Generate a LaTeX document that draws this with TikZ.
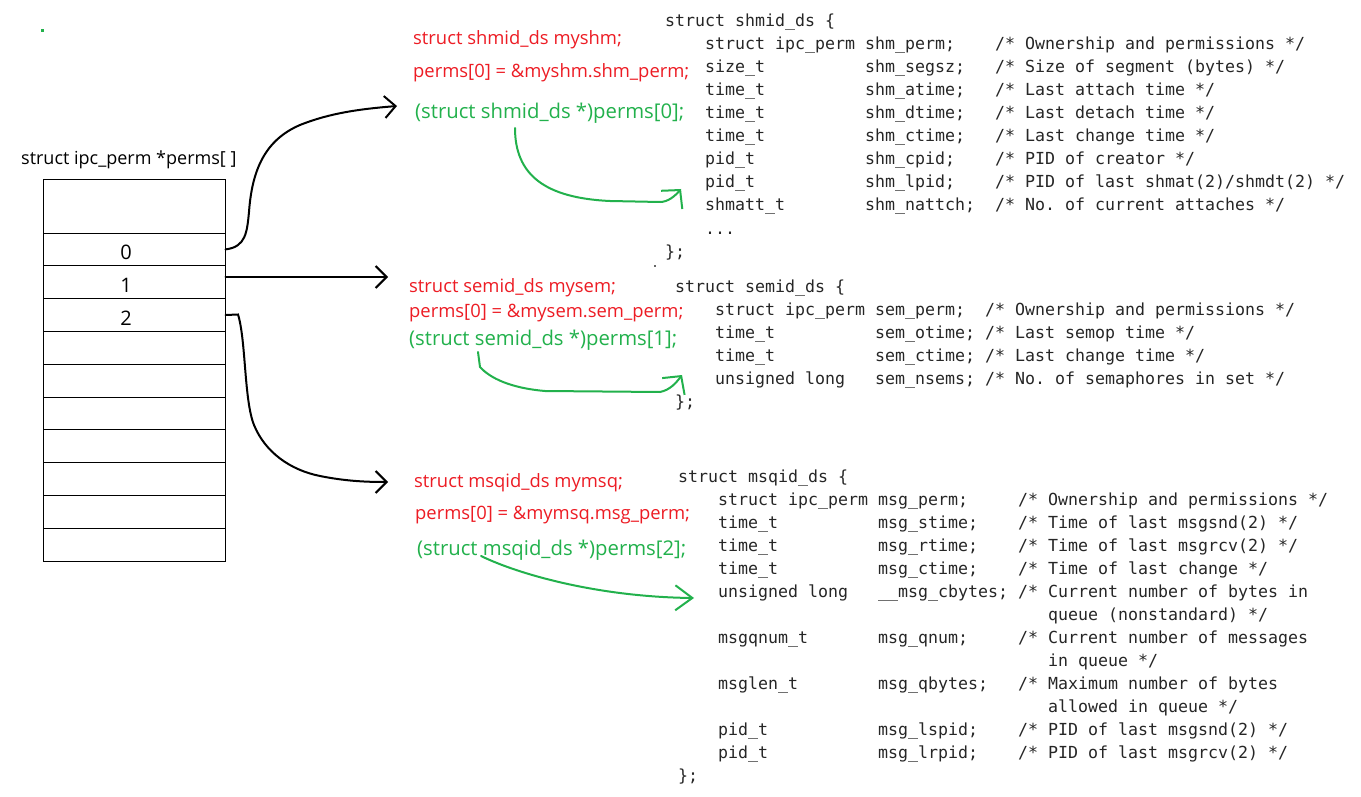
\documentclass[tikz,border=0pt]{standalone}
\usepackage{fontspec}
\setmainfont{Open Sans}
\newfontfamily\codefont{DejaVu Sans Mono}
\usetikzlibrary{arrows.meta}
\definecolor{myred}{RGB}{237,28,36}
\definecolor{mygreen}{RGB}{34,177,76}
\begin{document}
\begin{tikzpicture}[x=1pt,y=-1pt,
  code/.style={anchor=base west,inner sep=0pt,font=\codefont\fontsize{16.61}{20}\selectfont,text=black!85},
  rtxt/.style={anchor=base west,inner sep=0pt,font=\fontsize{18.4}{22}\selectfont,text=myred},
  gtxt/.style={anchor=base west,inner sep=0pt,font=\fontsize{20.3}{24}\selectfont,text=mygreen},
  cell/.style={draw=black,line width=1pt,minimum width=182pt,inner sep=0pt,text height=20pt,text depth=0pt,font=\fontsize{20}{24}\selectfont},
  blk/.style={line width=2pt,line cap=round,-{Straight Barb[length=11pt,width=22pt]}},
  grn/.style={draw=mygreen,line width=2pt,line cap=round,-{Straight Barb[length=13pt,width=28pt]}},
  grnb/.style={draw=mygreen,line width=2pt,line cap=round,-{Straight Barb[length=17pt,width=25pt]}}
]
\fill[white] (0,0) rectangle (1361,797);
\useasboundingbox (0,0) rectangle (1361,797);

% stray dots
\fill[mygreen] (41,29) rectangle (44,32);
\fill[black!60] (654,265) rectangle (656,267);

% array
\node[anchor=base west,inner sep=0pt,font=\fontsize{18}{22}\selectfont] (title) at (21,165) {struct ipc\_perm *perms[~]};
\node[cell,minimum height=53pt] (top) at (134,206.5) {};
\foreach \lab [count=\i from 0] in {0,1,2,{},{},{},{},{},{},{}}
  \node[cell,minimum height=32.8pt] (c\i) at (134,{249.4+32.8*\i}) {\makebox[0pt]{\lab}\hspace*{16pt}};

% red / green texts
\node[rtxt] (r1a) at (413,45) {struct shmid\_ds myshm;};
\node[rtxt] (r1b) at (413,78) {perms[0] = \&myshm.shm\_perm;};
\node[gtxt] (g1) at (415,119) {(struct shmid\_ds *)perms[0];};
\node[rtxt] (r2a) at (409,292) {struct semid\_ds mysem;};
\node[rtxt] (r2b) at (409,317) {perms[0] = \&mysem.sem\_perm;};
\node[gtxt] (g2) at (409,345) {(struct semid\_ds *)perms[1];};
\node[rtxt] (r3a) at (414,487) {struct msqid\_ds mymsq;};
\node[rtxt] (r3b) at (415,519) {perms[0] = \&mymsq.msg\_perm;};
\node[gtxt] (g3) at (417,555) {(struct msqid\_ds *)perms[2];};

% shmid_ds
\foreach \ln [count=\i from 0] in {
 {struct~shmid\_ds~\{},
 {~~~~struct~ipc\_perm~shm\_perm;~~~~/*~Ownership~and~permissions~*/},
 {~~~~size\_t~~~~~~~~~~shm\_segsz;~~~/*~Size~of~segment~(bytes)~*/},
 {~~~~time\_t~~~~~~~~~~shm\_atime;~~~/*~Last~attach~time~*/},
 {~~~~time\_t~~~~~~~~~~shm\_dtime;~~~/*~Last~detach~time~*/},
 {~~~~time\_t~~~~~~~~~~shm\_ctime;~~~/*~Last~change~time~*/},
 {~~~~pid\_t~~~~~~~~~~~shm\_cpid;~~~~/*~PID~of~creator~*/},
 {~~~~pid\_t~~~~~~~~~~~shm\_lpid;~~~~/*~PID~of~last~shmat(2)/shmdt(2)~*/},
 {~~~~shmatt\_t~~~~~~~~shm\_nattch;~~/*~No.~of~current~attaches~*/},
 {~~~~.{}.{}.},
 {\};}}
  \node[code] (shm\i) at (665,{27+23*\i}) {\ln};

% semid_ds
\foreach \ln [count=\i from 0] in {
 {struct~semid\_ds~\{},
 {~~~~struct~ipc\_perm~sem\_perm;~~/*~Ownership~and~permissions~*/},
 {~~~~time\_t~~~~~~~~~~sem\_otime;~/*~Last~semop~time~*/},
 {~~~~time\_t~~~~~~~~~~sem\_ctime;~/*~Last~change~time~*/},
 {~~~~unsigned~long~~~sem\_nsems;~/*~No.~of~semaphores~in~set~*/},
 {\};}}
  \node[code] (sem\i) at (675,{292+23*\i}) {\ln};

% msqid_ds
\foreach \ln [count=\i from 0] in {
 {struct~msqid\_ds~\{},
 {~~~~struct~ipc\_perm~msg\_perm;~~~~~/*~Ownership~and~permissions~*/},
 {~~~~time\_t~~~~~~~~~~msg\_stime;~~~~/*~Time~of~last~msgsnd(2)~*/},
 {~~~~time\_t~~~~~~~~~~msg\_rtime;~~~~/*~Time~of~last~msgrcv(2)~*/},
 {~~~~time\_t~~~~~~~~~~msg\_ctime;~~~~/*~Time~of~last~change~*/},
 {~~~~unsigned~long~~~\_\_msg\_cbytes;~/*~Current~number~of~bytes~in},
 {~~~~~~~~~~~~~~~~~~~~~~~~~~~~~~~~~~~~~queue~(nonstandard)~*/},
 {~~~~msgqnum\_t~~~~~~~msg\_qnum;~~~~~/*~Current~number~of~messages},
 {~~~~~~~~~~~~~~~~~~~~~~~~~~~~~~~~~~~~~in~queue~*/},
 {~~~~msglen\_t~~~~~~~~msg\_qbytes;~~~/*~Maximum~number~of~bytes},
 {~~~~~~~~~~~~~~~~~~~~~~~~~~~~~~~~~~~~~allowed~in~queue~*/},
 {~~~~pid\_t~~~~~~~~~~~msg\_lspid;~~~~/*~PID~of~last~msgsnd(2)~*/},
 {~~~~pid\_t~~~~~~~~~~~msg\_lrpid;~~~~/*~PID~of~last~msgrcv(2)~*/},
 {\};}}
  \node[code] (msg\i) at (678,{482+23*\i}) {\ln};

% black arrows
\coordinate (t1) at (397,106);
\coordinate (t2) at (388,277);
\coordinate (t3) at (388,482);
\draw[blk] (c0.east) .. controls (246,247) and (247,232) .. (249,212)
  .. controls (252,170) and (265,140) .. (300,125)
  .. controls (330,113) and (360,109) .. (t1);
\draw[blk] (c1.east |- t2) -- (t2);
\draw[blk] (c2.east) -- (238,314.5) .. controls (246,340) and (244,400) .. (254,425)
  .. controls (265,452) and (290,470) .. (320,476)
  .. controls (345,481) and (365,482) .. (t3);

% green arrows
\coordinate (s1) at (515,128);
\coordinate (e1) at (681,189);
\coordinate (s2) at (478,352);
\coordinate (e2) at (682,375);
\coordinate (s3) at (481,556);
\coordinate (e3) at (694,598);
\draw[grn] (s1) .. controls (515,175) and (545,198) .. (610,201) -- (660,202)
  .. controls (668,202) and (675,196) .. (e1);
\draw[grn] (s2) -- (480,367) .. controls (490,378) and (510,388) .. (545,391) -- (660,392)
  .. controls (670,390) and (676,383) .. (e2);
\draw[grnb] (s3) .. controls (520,575) and (600,597) .. (e3);
\end{tikzpicture}
\end{document}
